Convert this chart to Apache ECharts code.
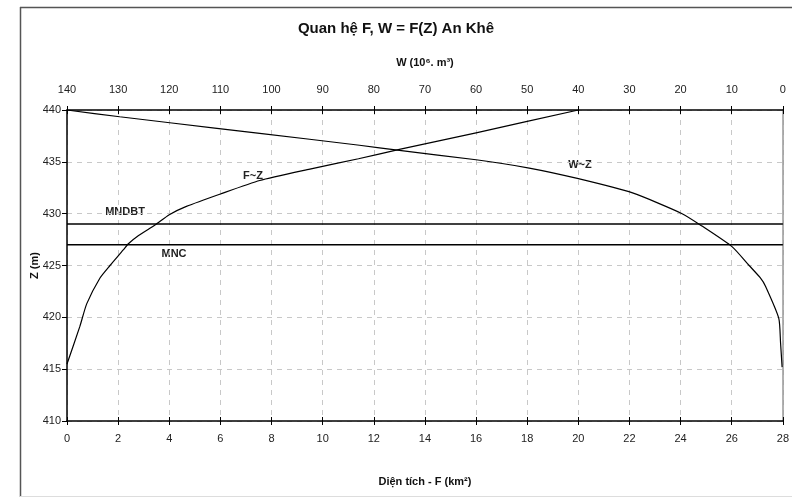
<!DOCTYPE html>
<html>
<head>
<meta charset="utf-8">
<script src="https://cdn.jsdelivr.net/npm/echarts@6/dist/echarts.min.js"></script>
<style>html,body{margin:0;padding:0;background:#fff}#c{width:792px;height:499px}</style>
</head>
<body>
<div id="c"></div>
<script>
// Data
const titleText = 'Quan hệ F, W = F(Z) An Khê';
const fzArea = [0, 0.5, 0.77, 1.29, 1.68, 2.2, 2.4, 2.8, 3.44, 4.0, 4.67, 6.0, 7.54, 9.5, 11.4, 13.0, 16.0, 20.0];
const fzLevel = [415.5, 419.1, 421.3, 423.8, 425.0, 426.5, 427.1, 427.9, 428.9, 429.9, 430.7, 431.9, 433.2, 434.3, 435.3, 436.2, 437.8, 440.0];
const wzVolume = [140, 129.7, 119.9, 102.3, 82.8, 75.0, 60.0, 49.6, 40.2, 29.4, 19.7, 15.8, 9.9, 6.6, 4.4, 3.4, 0.8, 0.45, 0.15];
const wzLevel = [440, 439.35, 438.77, 437.75, 436.6, 436.1, 435.2, 434.4, 433.4, 432.0, 430.0, 428.8, 426.8, 425.0, 423.8, 423.0, 419.9, 417.5, 415.2];
const levelMNDBT = 429;
const levelMNC = 427;
const fRange = [0, 28], fStep = 2;
const wRange = [0, 140], wStep = 10;
const zRange = [410, 440], zStep = 5;

const FONT = "'Liberation Sans Narrow', 'Arial Narrow', 'Liberation Sans', Arial, sans-serif";
const chart = echarts.init(document.getElementById('c'), null, {renderer: 'canvas'});
const zip = (a, b) => a.map((v, i) => [v, b[i]]);
const lbl = {color: '#222', fontSize: 11, fontFamily: FONT};
const nameSt = {color: '#111', fontSize: 11, fontWeight: 'bold', fontFamily: FONT};

chart.setOption({
  animation: false,
  backgroundColor: '#fff',
  title: {
    text: titleText, left: 'center', top: 16,
    textStyle: {fontSize: 15, fontWeight: 'bold', color: '#111', fontFamily: FONT}
  },
  grid: {left: 67, right: 8, top: 110, bottom: 78},
  xAxis: [
    {
      type: 'value', position: 'bottom', min: fRange[0], max: fRange[1], interval: fStep,
      name: 'Diện tích - F (km²)', nameLocation: 'middle', nameGap: 55, nameMoveOverlap: false, nameTextStyle: nameSt,
      axisLine: {show: true, onZero: false, lineStyle: {color: '#000', width: 1.5}},
      axisTick: {show: true, length: 4, lineStyle: {color: '#000'}},
      axisLabel: Object.assign({margin: 12}, lbl),
      splitLine: {show: true, lineStyle: {color: '#c8c8c8', type: [5, 5]}}
    },
    {
      type: 'value', position: 'top', min: wRange[0], max: wRange[1], interval: wStep, inverse: true,
      name: 'W (10⁶. m³)', nameLocation: 'middle', nameGap: 42, nameMoveOverlap: false, nameTextStyle: nameSt,
      axisLine: {show: true, onZero: false, lineStyle: {color: '#000', width: 1.5}},
      axisTick: {show: true, length: 4, lineStyle: {color: '#000'}},
      axisLabel: Object.assign({margin: 15}, lbl),
      splitLine: {show: false}
    },
    {
      type: 'value', position: 'bottom', min: fRange[0], max: fRange[1], interval: fStep,
      axisLine: {show: false}, axisLabel: {show: false}, splitLine: {show: false},
      axisTick: {show: true, inside: true, length: 4, lineStyle: {color: '#000'}}
    },
    {
      type: 'value', position: 'top', min: wRange[0], max: wRange[1], interval: wStep, inverse: true,
      axisLine: {show: false}, axisLabel: {show: false}, splitLine: {show: false},
      axisTick: {show: true, inside: true, length: 4, lineStyle: {color: '#000'}}
    }
  ],
  yAxis: [
    {
      type: 'value', position: 'left', min: zRange[0], max: zRange[1], interval: zStep,
      name: 'Z (m)', nameLocation: 'middle', nameGap: 27, nameMoveOverlap: false, nameRotate: 90, nameTextStyle: nameSt,
      axisLine: {show: true, onZero: false, lineStyle: {color: '#000', width: 1.5}},
      axisTick: {show: true, length: 5, lineStyle: {color: '#000'}},
      axisLabel: Object.assign({margin: 6}, lbl),
      splitLine: {show: true, lineStyle: {color: '#c8c8c8', type: [5, 5]}}
    },
    {
      type: 'value', position: 'right', min: zRange[0], max: zRange[1], interval: zStep,
      axisLine: {show: true, onZero: false, lineStyle: {color: '#999', width: 1.5}},
      axisTick: {show: false}, axisLabel: {show: false}, splitLine: {show: false}
    }
  ],
  series: [
    {
      name: 'F~Z', type: 'line', xAxisIndex: 0, yAxisIndex: 0, data: zip(fzArea, fzLevel),
      showSymbol: false, symbol: 'none', smooth: 0.2, lineStyle: {color: '#000', width: 1.2}
    },
    {
      name: 'W~Z', type: 'line', xAxisIndex: 1, yAxisIndex: 0, data: zip(wzVolume, wzLevel),
      showSymbol: false, symbol: 'none', smooth: 0.2, lineStyle: {color: '#000', width: 1.2}
    },
    {
      name: 'MNDBT', type: 'line', xAxisIndex: 0, yAxisIndex: 0,
      data: [[fRange[0], levelMNDBT], [fRange[1], levelMNDBT]],
      showSymbol: false, symbol: 'none', lineStyle: {color: '#000', width: 1.5}
    },
    {
      name: 'MNC', type: 'line', xAxisIndex: 0, yAxisIndex: 0,
      data: [[fRange[0], levelMNC], [fRange[1], levelMNC]],
      showSymbol: false, symbol: 'none', lineStyle: {color: '#000', width: 1.5}
    }
  ],
  graphic: [
    {type: 'line', shape: {x1: 20, y1: 7.5, x2: 792, y2: 7.5}, style: {stroke: '#555', lineWidth: 1.5}, silent: true},
    {type: 'line', shape: {x1: 20.5, y1: 7, x2: 20.5, y2: 497}, style: {stroke: '#555', lineWidth: 1.5}, silent: true},
    {type: 'line', shape: {x1: 20, y1: 496.5, x2: 792, y2: 496.5}, style: {stroke: '#ddd', lineWidth: 1}, silent: true},
    {type: 'text', x: 125, y: 212, style: {text: 'MNDBT', fill: '#222', font: "bold 11px " + FONT, textAlign: 'center', textVerticalAlign: 'middle'}},
    {type: 'text', x: 174, y: 254, style: {text: 'MNC', fill: '#222', font: "bold 11px " + FONT, textAlign: 'center', textVerticalAlign: 'middle'}},
    {type: 'text', x: 253, y: 176, style: {text: 'F~Z', fill: '#222', font: "bold 11px " + FONT, textAlign: 'center', textVerticalAlign: 'middle'}},
    {type: 'text', x: 580, y: 165, style: {text: 'W~Z', fill: '#222', font: "bold 11px " + FONT, textAlign: 'center', textVerticalAlign: 'middle'}}
  ]
});
</script>
</body>
</html>
